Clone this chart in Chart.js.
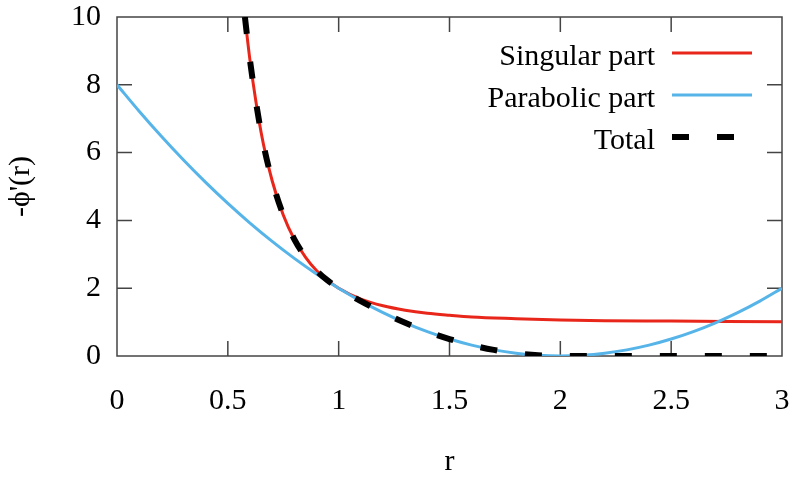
<!DOCTYPE html>
<html>
<head>
<meta charset="utf-8">
<script src="https://cdn.jsdelivr.net/npm/chart.js@4/dist/chart.umd.min.js"></script>
<style>
  html, body { margin: 0; padding: 0; background: #fff; }
  #wrap { width: 800px; height: 480px; }
</style>
</head>
<body>
<div id="wrap"><canvas id="c" width="800" height="480"></canvas></div>
<script>
// ---- data ----
const singularR = [0.577, 0.6, 0.65, 0.7, 0.75, 0.8, 0.85, 0.9, 0.95, 1.0, 1.1, 1.2, 1.3, 1.4, 1.5, 1.6, 1.8, 2.0, 2.2, 2.5, 2.75, 3.0];
const singularV = [10.0, 8.72, 6.6, 5.17, 4.16, 3.44, 2.92, 2.52, 2.23, 2.0, 1.68, 1.48, 1.35, 1.26, 1.2, 1.15, 1.1, 1.06, 1.04, 1.03, 1.02, 1.01];

const parabolicR = [0, 0.1, 0.2, 0.3, 0.4, 0.5, 0.6, 0.7, 0.8, 0.9, 1.0, 1.1, 1.2, 1.3, 1.4, 1.5, 1.6, 1.7, 1.8, 1.9, 2.0, 2.1, 2.2, 2.3, 2.4, 2.5, 2.6, 2.7, 2.8, 2.9, 3.0];
const parabolicV = [8.0, 7.22, 6.48, 5.78, 5.12, 4.5, 3.92, 3.38, 2.88, 2.42, 2.0, 1.62, 1.28, 0.98, 0.72, 0.5, 0.32, 0.18, 0.08, 0.02, 0.0, 0.02, 0.08, 0.18, 0.32, 0.5, 0.72, 0.98, 1.28, 1.62, 2.0];

const totalR = [0.577, 0.6, 0.65, 0.7, 0.75, 0.8, 0.85, 0.9, 0.95, 1.0, 1.1, 1.2, 1.3, 1.4, 1.5, 1.6, 1.7, 1.8, 1.9, 2.0, 2.5, 3.0];
const totalV = [10.0, 8.72, 6.6, 5.17, 4.16, 3.44, 2.92, 2.52, 2.23, 2.0, 1.62, 1.28, 0.98, 0.72, 0.5, 0.32, 0.18, 0.08, 0.02, 0.0, 0.0, 0.0];

const seriesLabels = ['Singular part', 'Parabolic part', 'Total'];
const xTickValues = [0, 0.5, 1, 1.5, 2, 2.5, 3];
const yTickValues = [0, 2, 4, 6, 8, 10];
const xTitle = 'r';
const yTitle = '-\u03D5\'(r)';

const toPts = (xs, ys) => xs.map((x, i) => ({ x: x, y: ys[i] }));

const FONT = 'Liberation Serif, "Times New Roman", serif';
const AXIS_COLOR = '#444444';

const frame = {
  id: 'frame',
  beforeDatasetsDraw(chart) {
    const { ctx, chartArea: a, scales } = chart;
    ctx.save();
    ctx.strokeStyle = AXIS_COLOR;
    ctx.lineWidth = 1.5;
    ctx.strokeRect(a.left, a.top, a.right - a.left, a.bottom - a.top);
    const L = 15;
    ctx.beginPath();
    xTickValues.forEach(v => {
      const px = scales.x.getPixelForValue(v);
      if (v === 0 || v === 3) return;
      ctx.moveTo(px, a.bottom); ctx.lineTo(px, a.bottom - L);
      ctx.moveTo(px, a.top); ctx.lineTo(px, a.top + L);
    });
    yTickValues.forEach(v => {
      const py = scales.y.getPixelForValue(v);
      if (v === 0 || v === 10) return;
      ctx.moveTo(a.left, py); ctx.lineTo(a.left + L, py);
      ctx.moveTo(a.right, py); ctx.lineTo(a.right - L, py);
    });
    ctx.stroke();
    ctx.restore();
  }
};

const keyBox = {
  id: 'keyBox',
  afterDraw(chart) {
    const { ctx } = chart;
    const rows = [53, 95, 137];
    ctx.save();
    chart.data.datasets.forEach((ds, i) => {
      const y = rows[i];
      ctx.font = '30px ' + FONT;
      ctx.fillStyle = '#000';
      ctx.textAlign = 'right';
      ctx.textBaseline = 'alphabetic';
      ctx.fillText(ds.label, 655, y + 11.5);
      ctx.strokeStyle = ds.borderColor;
      ctx.lineWidth = ds.borderWidth;
      ctx.setLineDash(ds.borderDash || []);
      ctx.lineCap = 'butt';
      ctx.beginPath();
      ctx.moveTo(672, y); ctx.lineTo(752, y);
      ctx.stroke();
      ctx.setLineDash([]);
    });
    ctx.restore();
  }
};

const zeroPad = s => { s.paddingTop = 0; s.paddingBottom = 0; s.paddingLeft = 0; s.paddingRight = 0; };

new Chart(document.getElementById('c'), {
  type: 'line',
  data: {
    datasets: [
      { label: seriesLabels[0], data: toPts(singularR, singularV), borderColor: '#e8261a', borderWidth: 3, pointRadius: 0, cubicInterpolationMode: 'monotone', order: 2 },
      { label: seriesLabels[1], data: toPts(parabolicR, parabolicV), borderColor: '#56b4e9', borderWidth: 3, pointRadius: 0, cubicInterpolationMode: 'monotone', order: 1 },
      { label: seriesLabels[2], data: toPts(totalR, totalV), borderColor: '#000000', borderWidth: 6, borderDash: [17, 28], borderCapStyle: 'butt', pointRadius: 0, cubicInterpolationMode: 'monotone', order: 0 }
    ]
  },
  options: {
    responsive: false,
    animation: false,
    events: [],
    layout: { padding: { top: 17, right: 18, left: 0, bottom: 0 } },
    plugins: { legend: { display: false }, tooltip: { enabled: false } },
    scales: {
      x: {
        type: 'linear', min: 0, max: 3,
        afterBuildTicks: s => { s.ticks = xTickValues.map(v => ({ value: v })); },
        afterFit: s => { s.height = 124; zeroPad(s); },
        ticks: { font: { family: FONT, size: 30 }, color: '#000', padding: 27, maxRotation: 0, callback: v => String(v) },
        grid: { display: false, drawTicks: false },
        border: { display: false },
        title: { display: true, text: xTitle, font: { family: FONT, size: 30 }, color: '#000', padding: { top: 0, bottom: 0 } }
      },
      y: {
        type: 'linear', min: 0, max: 10,
        afterBuildTicks: s => { s.ticks = yTickValues.map(v => ({ value: v })); },
        afterFit: s => { s.width = 117; zeroPad(s); },
        ticks: { font: { family: FONT, size: 30 }, color: '#000', padding: 16, callback: v => String(v) },
        grid: { display: false, drawTicks: false },
        border: { display: false },
        title: { display: true, text: yTitle, font: { family: FONT, size: 30 }, color: '#000', padding: { top: 3, bottom: 0 } }
      }
    }
  },
  plugins: [frame, keyBox]
});
</script>
</body>
</html>
